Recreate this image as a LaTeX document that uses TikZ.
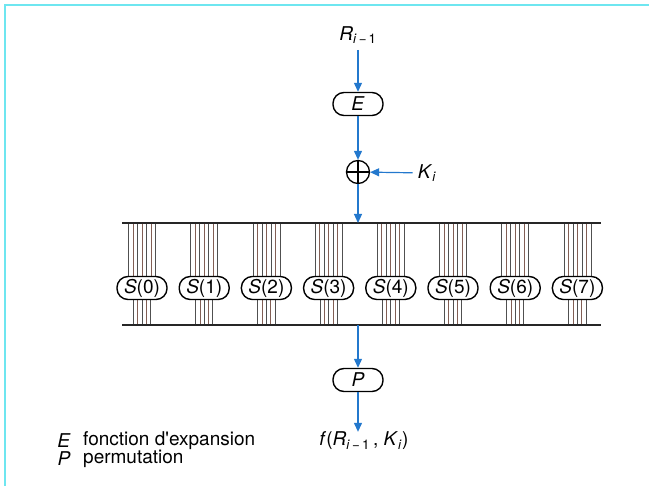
\documentclass[tikz,border=0pt]{standalone}
\usepackage{fontspec}
\setmainfont{TeX Gyre Heros}
\usetikzlibrary{arrows.meta}
\definecolor{bluearrow}{RGB}{35,120,205}
\definecolor{framecyan}{RGB}{110,230,240}
\definecolor{wiregray}{RGB}{80,80,80}
\definecolor{wirebrown}{RGB}{130,95,85}
\begin{document}
\begin{tikzpicture}[x=1pt,y=-1pt,
  flow/.style={draw=bluearrow, line width=1.2pt, -{Triangle[length=9pt,width=8pt]}},
  pill/.style={draw, line width=1.4pt, rounded corners=11pt, minimum width=50pt,
    minimum height=23pt, inner sep=0pt, fill=white, font=\fontsize{19}{19}\selectfont},
  bar/.style={draw=black!85, line width=1.6pt},
  wire/.style={line width=0.75pt},
  lbl/.style={font=\fontsize{19}{19}\selectfont, inner sep=0pt}]
\useasboundingbox (0,0) rectangle (649,486);
\draw[framecyan, line width=1.5pt] (649,5) -- (5,5) -- (5,486);

% input
\node[lbl] (R) at (358,35) {\textit{R}\textsubscript{\textit{i}\,−\,1}};
\coordinate (Rin) at (358,50);
\node[pill] (E) at (358,104) {\textit{E}};
\node[draw, circle, line width=1.3pt, minimum size=23pt, inner sep=0pt] (X) at (358,172) {};
\draw[line width=1.1pt] (X.north) -- (X.south) (X.west) -- (X.east);
\node[lbl] (K) at (427,173) {\textit{K}\textsubscript{\textit{i}}};
\draw[flow] (Rin) -- (E);
\draw[flow] (E) -- (X);
\draw[flow, shorten <=5pt] (K) -- (X);

% bars
\coordinate (TL) at (122,223);
\coordinate (TR) at (601,223);
\coordinate (BL) at (122,325);
\coordinate (BR) at (601,325);
\coordinate (T) at (358,223);
\coordinate (B) at (358,325);

\foreach \i in {0,...,7} {
  \pgfmathsetmacro{\cx}{142+62.2*\i}
  \foreach \k in {0,...,6} {
    \pgfmathsetmacro{\wx}{\cx-13.5+4.5*\k}
    \ifodd\k \def\wc{wirebrown}\else\def\wc{wiregray}\fi
    \draw[wire, draw=\wc] (\wx,223) -- (\wx,288);
  }
  \foreach \k in {0,...,4} {
    \pgfmathsetmacro{\wx}{\cx-8.6+4.3*\k}
    \ifodd\k \def\wc{wirebrown}\else\def\wc{wiregray}\fi
    \draw[wire, draw=\wc] (\wx,288) -- (\wx,325);
  }
  \node[pill] (S\i) at (\cx,288) {\textit{S}(\i)};
}
\draw[bar] (TL) -- (TR);
\draw[bar] (BL) -- (BR);
\draw[flow] (X) -- (T);

% output
\node[pill] (P) at (358,380) {\textit{P}};
\draw[flow] (B) -- (P);
\node[lbl] (F) at (364,441) {\textit{f}(\textit{R}\textsubscript{\textit{i}\,−\,1}\,, \textit{K}\textsubscript{\textit{i}})};
\draw[flow] (P.south) -- (P.south |- F.north);

% legend
\node[lbl] (LE) at (64,441) {\textit{E}};
\node[lbl, anchor=west] (LEt) at (83,441) {fonction d\textquotesingle expansion};
\node[lbl] (LP) at (64,459) {\textit{P}};
\node[lbl, anchor=west] (LPt) at (83,459) {permutation};
\end{tikzpicture}
\end{document}
